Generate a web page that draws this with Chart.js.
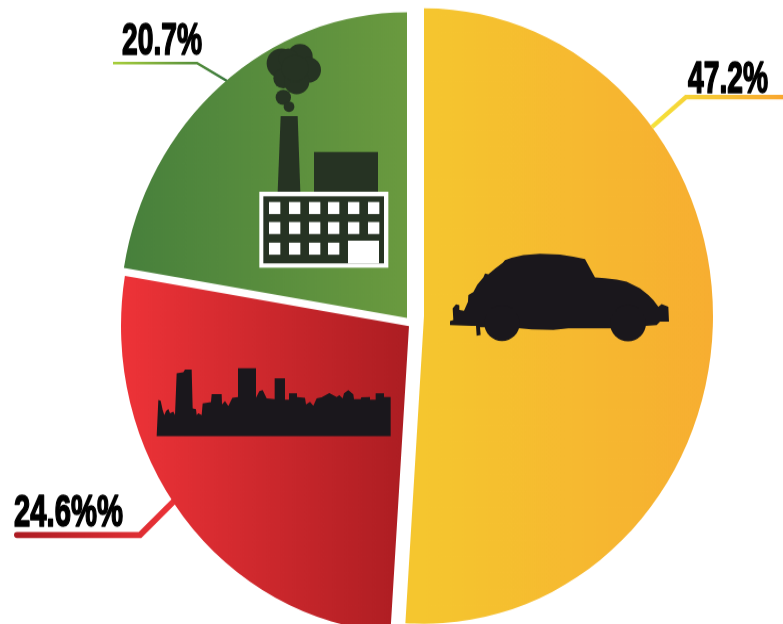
<!DOCTYPE html>
<html>
    <head>
        <meta charset="utf-8">
        <script src="https://cdn.jsdelivr.net/npm/chart.js@4/dist/chart.umd.min.js"></script>
        <style>
            html, body { margin: 0; padding: 0; background: #ffffff; overflow: hidden; width: 783px; height: 624px; }
            /* the pie is a little taller than wide */
            canvas { display: block; transform-origin: 0 0; transform: scaleY(1.065); }
        </style>
    </head>
    <body>
        <canvas id="pie-chart" width="783" height="586"></canvas>

        <script>
            // slices, clockwise from twelve o'clock
            const categories = ['Cars', 'City', 'Industry'];
            const shares = [47.2, 24.6, 20.7];
            const shareLabels = ['47.2%', '24.6%%', '20.7%'];

            const stretchY = 1.065; // same as the css transform
            const ink = '#1a171c';
            const factoryInk = '#263323';

            // left and right colours of each slice, plus the x range they run over
            const sliceFades = [
                [425, 712, '#f5c62f', '#f7ae31'],
                [121, 409, '#ee3338', '#ac1d22'],
                [123, 407, '#47803c', '#6a9a3f']
            ];
            // every slice sits a bit off the common centre: dx, dy, extra radius
            const sliceMoves = [[12, -4, 1], [-3, 6, 0], [-5, -2, -1]];

            const leaders = [
                { pts: [[652, 127], [686, 97], [783, 97]], width: 4.5, from: [652, '#f5e33a'], to: [783, '#f9a62e'], cap: 'butt', labelX: 688, labelY: 93, labelW: 80 },
                { pts: [[178, 497], [140, 535], [17, 535]], width: 6, from: [178, '#ee3338'], to: [17, '#ad1c23'], cap: 'round', labelX: 14, labelY: 526, labelW: 109 },
                { pts: [[227, 81], [197, 63], [113, 63]], width: 2.6, from: [227, '#35753b'], to: [113, '#a8cf3a'], cap: 'butt', labelX: 122, labelY: 54, labelW: 80 }
            ];

            // outlines are in thirds of a pixel, measured from the given origin
            const carOutline = [[30,255],[30,243],[40,240],[38,205],[48,193],[58,195],[58,210],[72,212],[84,185],[85,165],[100,156],[112,134],[130,112],[135,100],[145,103],[165,86],[188,68],[195,60],[215,53],[250,45],[300,41],[360,44],[400,50],[435,57],[465,112],[495,115],[530,119],[560,125],[600,145],[625,165],[640,180],[655,200],[665,192],[685,200],[687,245],[660,245],[650,255],[618,258],[510,265],[385,265],[340,270],[275,268],[240,265],[133,262],[120,262],[122,285],[110,287],[108,258],[95,258]];
            const carWheels = [[186, 250, 53], [564, 250, 54]];
            const skyline = [[50,243],[55,135],[62,137],[68,165],[73,180],[78,168],[85,162],[90,175],[100,170],[105,180],[110,55],[130,52],[135,44],[155,44],[158,160],[168,163],[170,180],[175,175],[185,180],[188,145],[213,141],[215,117],[245,117],[246,148],[255,138],[265,153],[277,128],[294,126],[294,40],[348,40],[348,128],[358,108],[368,105],[380,130],[404,132],[404,70],[435,70],[435,134],[447,134],[447,115],[471,115],[471,126],[495,128],[498,148],[510,140],[520,152],[530,130],[545,127],[568,114],[590,126],[598,120],[608,130],[612,115],[625,105],[640,118],[642,132],[662,132],[664,127],[690,126],[690,134],[707,134],[707,115],[732,115],[732,126],[752,126],[752,243]];
            const smoke = [[545,190,45],[600,170,38],[565,175,30],[625,210,38],[550,235,30],[590,245,38],[585,205,40],[550,292,23],[567,320,16]];
            const chimney = [[542,348],[593,348],[601,575],[533,575]];
            const windowCols = [507, 567, 627, 684, 744, 804];
            const windowRows = [606, 666, 728];

            function polygon(ctx, ox, oy, pts) {
                ctx.beginPath();
                pts.forEach((p, i) => {
                    if (i === 0) ctx.moveTo(ox + p[0] / 3, oy + p[1] / 3);
                    else ctx.lineTo(ox + p[0] / 3, oy + p[1] / 3);
                });
                ctx.closePath();
                ctx.fill();
            }

            function circles(ctx, ox, oy, list) {
                list.forEach(c => {
                    ctx.beginPath();
                    ctx.arc(ox + c[0] / 3, oy + c[1] / 3, c[2] / 3, 0, Math.PI * 2);
                    ctx.fill();
                });
            }

            function drawCar(ctx) {
                ctx.fillStyle = ink;
                polygon(ctx, 440, 240, carOutline);
                circles(ctx, 440, 240, carWheels);
            }

            function drawSkyline(ctx) {
                ctx.fillStyle = ink;
                polygon(ctx, 140, 355, skyline);
            }

            function drawFactory(ctx) {
                const ox = 100, oy = 0;
                const box = (x, y, w, h) => ctx.fillRect(ox + x / 3, oy + y / 3, w / 3, h / 3);
                ctx.fillStyle = factoryInk;
                circles(ctx, ox, oy, smoke);
                polygon(ctx, ox, oy, chimney);
                box(642, 456, 192, 119);
                ctx.fillStyle = '#ffffff';
                box(478, 575, 387, 228);
                ctx.fillStyle = factoryInk;
                box(490, 589, 362, 201);
                ctx.fillStyle = '#ffffff';
                windowRows.forEach((y, row) => {
                    windowCols.forEach((x, col) => {
                        if (row === 2 && col > 3) return;
                        box(x, y, 34, 36);
                    });
                });
                box(744, 722, 93, 68);
            }

            function drawLeader(ctx, l) {
                const fade = ctx.createLinearGradient(l.from[0], 0, l.to[0], 0);
                fade.addColorStop(0, l.from[1]);
                fade.addColorStop(1, l.to[1]);
                ctx.strokeStyle = fade;
                ctx.lineWidth = l.width;
                ctx.lineCap = l.cap;
                ctx.lineJoin = 'miter';
                ctx.beginPath();
                l.pts.forEach((p, i) => i === 0 ? ctx.moveTo(p[0], p[1]) : ctx.lineTo(p[0], p[1]));
                ctx.stroke();
            }

            function drawLabel(ctx, l, text) {
                ctx.font = '700 46px "Liberation Sans Narrow", "Liberation Sans", sans-serif';
                ctx.textAlign = 'left';
                ctx.textBaseline = 'alphabetic';
                ctx.fillStyle = '#000000';
                ctx.strokeStyle = '#000000';
                ctx.lineWidth = 1.8;
                ctx.lineJoin = 'round';
                ctx.fillText(text, l.labelX, l.labelY, l.labelW);
                ctx.strokeText(text, l.labelX, l.labelY, l.labelW);
            }

            // undo the vertical stretch so the extras use plain page pixels
            function onPage(chart, draw) {
                const ctx = chart.ctx;
                ctx.save();
                ctx.scale(1, 1 / stretchY);
                draw(ctx);
                ctx.restore();
            }

            const placeSlices = {
                id: 'placeSlices',
                afterDatasetUpdate(chart) {
                    chart.getDatasetMeta(0).data.forEach((arc, i) => {
                        arc.x += sliceMoves[i][0];
                        arc.y += sliceMoves[i][1] / stretchY;
                        arc.outerRadius += sliceMoves[i][2];
                    });
                }
            };

            const extras = {
                id: 'extras',
                beforeDatasetsDraw(chart) {
                    onPage(chart, ctx => leaders.forEach(l => drawLeader(ctx, l)));
                },
                afterDatasetsDraw(chart) {
                    onPage(chart, ctx => {
                        drawCar(ctx);
                        drawSkyline(ctx);
                        drawFactory(ctx);
                        leaders.forEach((l, i) => drawLabel(ctx, l, shareLabels[i]));
                    });
                }
            };

            new Chart(document.getElementById('pie-chart'), {
                type: 'pie',
                data: {
                    labels: categories,
                    datasets: [{
                        data: shares,
                        radius: 288,
                        borderWidth: 0,
                        clip: false,
                        backgroundColor(c) {
                            const f = sliceFades[c.dataIndex];
                            if (!f) return '#000000';
                            const fade = c.chart.ctx.createLinearGradient(f[0], 0, f[1], 0);
                            fade.addColorStop(0, f[2]);
                            fade.addColorStop(1, f[3]);
                            return fade;
                        }
                    }]
                },
                options: {
                    responsive: false,
                    animation: false,
                    layout: { padding: { left: 41, top: 15 } },
                    plugins: { legend: { display: false }, tooltip: { enabled: false } }
                },
                plugins: [placeSlices, extras]
            });
        </script>
    </body>
</html>
